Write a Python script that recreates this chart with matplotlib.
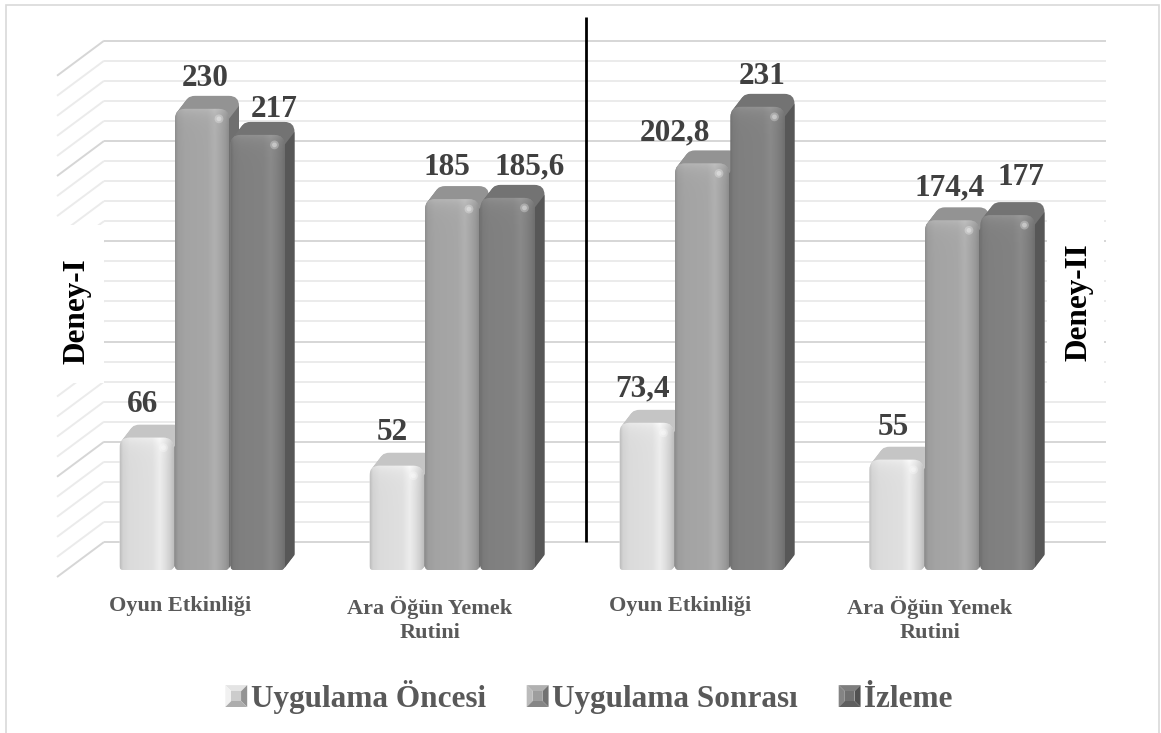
import numpy as np
import matplotlib.pyplot as plt
from matplotlib.path import Path
from matplotlib.patches import PathPatch, Polygon, Rectangle, Patch
from matplotlib.transforms import Affine2D
from matplotlib.legend_handler import HandlerBase

plt.rcParams['font.family'] = ['Liberation Serif', 'DejaVu Serif']

# values per category: Deney-I (first two), Deney-II (last two)
categories = ["Oyun Etkinliği", "Ara Öğün Yemek\nRutini",
              "Oyun Etkinliği", "Ara Öğün Yemek\nRutini"]
series_names = ["Uygulama Öncesi", "Uygulama Sonrası", "İzleme"]
uygulama_oncesi = [66, 52, 73.4, 55]
uygulama_sonrasi = [230, 185, 202.8, 174.4]
izleme = [217, 185.6, 231, 177]
panel_names = ["Deney-I", "Deney-II"]
y_max, y_step = 250, 10

series_values = [uygulama_oncesi, uygulama_sonrasi, izleme]
grays = [0.86, 0.64, 0.50]
legend_grays = [0.80, 0.62, 0.44]

# hand-placed label nudges (pixels), per category then per series
label_shift_px = [[-4, 3, 17], [-4, -5, 22], [-4, -27, 5], [-3, -2, 13]]
label_lift_px = [[26, 23, 17.5], [26, 24.5, 23], [26, 23, 23], [25, 25, 30]]

# pixel sizes of one category step and one value unit
PX_X = 250.0
PX_Y = 2.005


def sx(px):
    return px / PX_X


def sy(px):
    return px / PX_Y


BAR_W = sx(54)
BAR_STEP = sx(55.5)
DEPTH_X, DEPTH_Y = sx(10), sy(13)
RAD = 10
WALL_DY = sy(28)
WALL_X0, WALL_X1 = sx(104 - 202), sx(1106 - 202)
SIDE_X, SIDE_Y = sx(47), sy(35)

fig = plt.figure(figsize=(11.61, 7.33), dpi=100)
ax = fig.add_axes([0, 0, 1, 1])
ax.set_axis_off()
xlim = (-sx(202), sx(1161 - 202))
ylim = (-sy(733 - 570), sy(570))

# back wall and left wall gridlines
for v in range(0, y_max + y_step, y_step):
    c = '#d6d6d6' if v % 50 == 0 else '#ebebeb'
    yw = v + WALL_DY
    ax.plot([WALL_X0, WALL_X1], [yw, yw], color=c, lw=1.4, zorder=1,
            solid_capstyle='butt')
    ax.plot([WALL_X0 - SIDE_X, WALL_X0], [yw - SIDE_Y, yw], color=c, lw=1.4,
            zorder=1, solid_capstyle='butt')

# white boxes behind the panel names
ax.add_patch(Rectangle((WALL_X0 - SIDE_X - sx(3), sy(570 - 383)), SIDE_X + sx(2.5),
                       sy(383 - 225), facecolor='white', edgecolor='none', zorder=2))
ax.add_patch(Rectangle((sx(1047 - 202), sy(570 - 398)), sx(57), sy(398 - 205),
                       facecolor='white', edgecolor='none', zorder=2))
ax.text(sx(77 - 202), sy(570 - 311), panel_names[0], rotation=90, ha='center',
        va='center', fontsize=22.5, fontweight='bold', color='black', zorder=3)
ax.text(sx(1079 - 202), sy(570 - 302), panel_names[1], rotation=90, ha='center',
        va='center', fontsize=22.5, fontweight='bold', color='black', zorder=3)

# divider between the two experiments
ax.plot([1.5 + sx(9), 1.5 + sx(9)], [WALL_DY, sy(570 - 17)], color='black',
        lw=2.0, zorder=4, solid_capstyle='butt')


def front_path(xl, xr, h):
    rx, ry = sx(RAD), sy(RAD)
    bx, by = sx(4), sy(4)
    verts = [(xl + bx, 0), (xl, 0), (xl, by), (xl, h - ry), (xl, h), (xl + rx, h),
             (xr - rx, h), (xr, h), (xr, h - ry), (xr, by), (xr, 0), (xr - bx, 0),
             (xl + bx, 0)]
    codes = [Path.MOVETO, Path.CURVE3, Path.CURVE3, Path.LINETO, Path.CURVE3,
             Path.CURVE3, Path.LINETO, Path.CURVE3, Path.CURVE3, Path.LINETO,
             Path.CURVE3, Path.CURVE3, Path.CLOSEPOLY]
    return Path(verts, codes)


def front_image(gray, h):
    t = np.linspace(0, 1, 80)
    prof = np.interp(t, [0, 0.05, 0.18, 0.6, 0.74, 0.84, 0.94, 1.0],
                     [0.87, 0.96, 1.0, 1.02, 1.08, 1.02, 0.94, 0.86])
    y = np.linspace(0, h, 200)
    top = 0.06 * np.exp(-(h - y) * PX_Y / 7.0)
    img = np.clip(gray * prof[None, :] + top[:, None], 0, 1)
    return np.dstack([img, img, img])


def draw_bar(xl, h, gray, z):
    xr = xl + BAR_W
    top_c = str(gray * 0.9)
    side_c = str(gray * 0.68)
    # extrusion towards the back gives the top face
    for f in np.linspace(1, 0.1, 10):
        p = front_path(xl, xr, h).transformed(
            Affine2D().translate(DEPTH_X * f, DEPTH_Y * f))
        ax.add_patch(PathPatch(p, facecolor=top_c, edgecolor='none', zorder=z))
    ry = sy(RAD)
    ax.add_patch(Polygon([(xr, sy(2)), (xr, h - ry), (xr + DEPTH_X, h + DEPTH_Y - ry),
                          (xr + DEPTH_X, DEPTH_Y + sy(2))],
                         facecolor=side_c, edgecolor='none', zorder=z + 0.001))
    face = PathPatch(front_path(xl, xr, h), facecolor=str(gray), edgecolor='none',
                     zorder=z + 0.002)
    ax.add_patch(face)
    im = ax.imshow(front_image(gray, h), extent=[xl, xr, 0, h], origin='lower',
                   aspect='auto', interpolation='bilinear', zorder=z + 0.003)
    im.set_clip_path(face)
    ax.scatter([xr - sx(10)], [h - sy(10)], s=40, color='white', alpha=0.28,
               edgecolors='none', zorder=z + 0.004)
    ax.scatter([xr - sx(10)], [h - sy(10)], s=12, color='white', alpha=0.35,
               edgecolors='none', zorder=z + 0.005)


z = 5.0
for i in range(len(categories)):
    for k, vals in enumerate(series_values):
        xc = i + (k - 1) * BAR_STEP
        draw_bar(xc - BAR_W / 2, vals[i], grays[k], z)
        z += 0.01
        txt = f"{vals[i]:g}".replace('.', ',')
        ax.text(xc + sx(label_shift_px[i][k]), vals[i] + sy(label_lift_px[i][k]), txt,
                ha='center', va='baseline', fontsize=22.5, fontweight='bold',
                color='#404040', zorder=10)
    ax.text(i - sx(22), -sy(596 - 570), categories[i], ha='center', va='top',
            fontsize=16, fontweight='bold', color='#595959', linespacing=1.25,
            zorder=10)


class BevelHandler(HandlerBase):
    def create_artists(self, legend, orig_handle, xdescent, ydescent, width,
                       height, fontsize, trans):
        s = min(width, height)
        x0 = -xdescent + (width - s) / 2
        y0 = -ydescent + (height - s) / 2
        g = orig_handle.get_facecolor()[0]
        d = s * 0.28
        o = [(x0, y0), (x0 + s, y0), (x0 + s, y0 + s), (x0, y0 + s)]
        n = [(x0 + d, y0 + d), (x0 + s - d, y0 + d), (x0 + s - d, y0 + s - d),
             (x0 + d, y0 + s - d)]
        facets = [([o[3], o[2], n[2], n[3]], min(g * 1.12, 0.95)),
                  ([o[0], o[3], n[3], n[0]], min(g * 1.18, 0.97)),
                  ([o[1], o[2], n[2], n[1]], g * 0.72),
                  ([o[0], o[1], n[1], n[0]], g * 0.85),
                  (n, g)]
        arts = []
        for pts, c in facets:
            arts.append(Polygon(pts, facecolor=str(c), edgecolor='none',
                                transform=trans))
        return arts


handles = [Patch(facecolor=str(g)) for g in legend_grays]
leg = ax.legend(handles, series_names, loc='center',
                bbox_to_anchor=(589 / 1161, 1 - 697 / 733),
                ncol=3, frameon=False, handler_map={Patch: BevelHandler()},
                handlelength=0.7, handleheight=0.7, handletextpad=0.12,
                columnspacing=1.3, borderpad=0,
                prop={'family': ['Liberation Serif'], 'weight': 'bold', 'size': 22.5})
for t in leg.get_texts():
    t.set_color('#595959')

fig.add_artist(Rectangle((6 / 1161, -0.01), (1159 - 6) / 1161, 1.01 - 5 / 733,
                         transform=fig.transFigure, fill=False, edgecolor='#d9d9d9',
                         lw=1.2))

ax.set_xlim(*xlim)
ax.set_ylim(*ylim)
fig.savefig('out.png', dpi=100)
